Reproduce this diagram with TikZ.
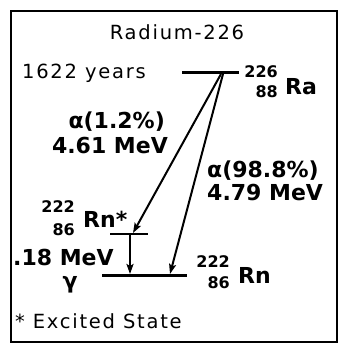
\documentclass[tikz,border=0pt]{standalone}
\usepackage{fontspec}
\usepackage{tikz}
\usetikzlibrary{arrows.meta}
\setmainfont{DejaVu Sans}
\newfontfamily\widefont[LetterSpace=9]{DejaVu Sans}

\begin{document}
\begin{tikzpicture}[x=1pt,y=-1pt]
        \tikzset{txt/.style={font=\widefont\fontsize{19.5}{21}\selectfont, inner sep=0pt},
        big/.style={font=\bfseries\fontsize{22}{24}\selectfont, inner sep=0pt},
        iso/.style={font=\bfseries\fontsize{16}{17}\selectfont, inner sep=0pt, anchor=base east},
        level/.style={line width=3pt},
        decay/.style={line width=2pt, -{Stealth[length=10pt,width=7pt,inset=2pt]}}}
        \useasboundingbox (0,0) rectangle (343,350);
        \draw[line width=2.8pt] (11,11) rectangle (337,342);
        \node[txt, anchor=base] (title) at (177,40) {Radium-226};
        \node[txt, anchor=base west] (halflife) at (22,79) {1622 years};
        \coordinate (raL) at (182,73);
        \coordinate (raR) at (239,73);
        \coordinate (exL) at (110,234);
        \coordinate (exR) at (148,234);
        \coordinate (gsL) at (102,275);
        \coordinate (gsR) at (187,275);
        \coordinate (ra1) at (221,74);
        \coordinate (ra2) at (223,74);
        \coordinate (ex1) at (133,233);
        \coordinate (ex2) at (130,234);
        \coordinate (gs1) at (130,274);
        \coordinate (gs2) at (170,274);
        \draw[level] (raL) -- (raR);
        \draw[line width=1.2pt] (exL) -- (exR);
        \draw[level] (gsL) -- (gsR);
        \node[iso] (raA) at (278,78) {226};
        \node[iso] (raZ) at (278,98) {88};
        \node[big, anchor=base west] (raSym) at (285,95) {Ra};
        \node[iso] (rnxA) at (75,212) {222};
        \node[iso] (rnxZ) at (75,235) {86};
        \node[big, anchor=base west] (rnxSym) at (83,227) {Rn*};
        \node[iso] (rnA) at (230,267) {222};
        \node[iso] (rnZ) at (230,288) {86};
        \node[big, anchor=base west] (rnSym) at (238,283) {Rn};
        \node[big, anchor=base east] (alphaLo) at (165,128) {α(1.2\%)};
        \node[big, anchor=base east] (eLo) at (168,153) {4.61 MeV};
        \node[big, anchor=base west] (alphaHi) at (207,177) {α(98.8\%)};
        \node[big, anchor=base west] (eHi) at (207,200) {4.79 MeV};
        \node[big, anchor=base west] (gammaE) at (13,265) {.18 MeV};
        \node[big] (gammaSym) at (70,285) {γ};
        \node[txt, anchor=base west] (note) at (15,328) {* Excited State};
        \draw[decay] (ra1) -- (ex1);
        \draw[decay] (ra2) -- (gs2);
        \draw[decay] (ex2) -- (gs1);
    \end{tikzpicture}
\end{document}
